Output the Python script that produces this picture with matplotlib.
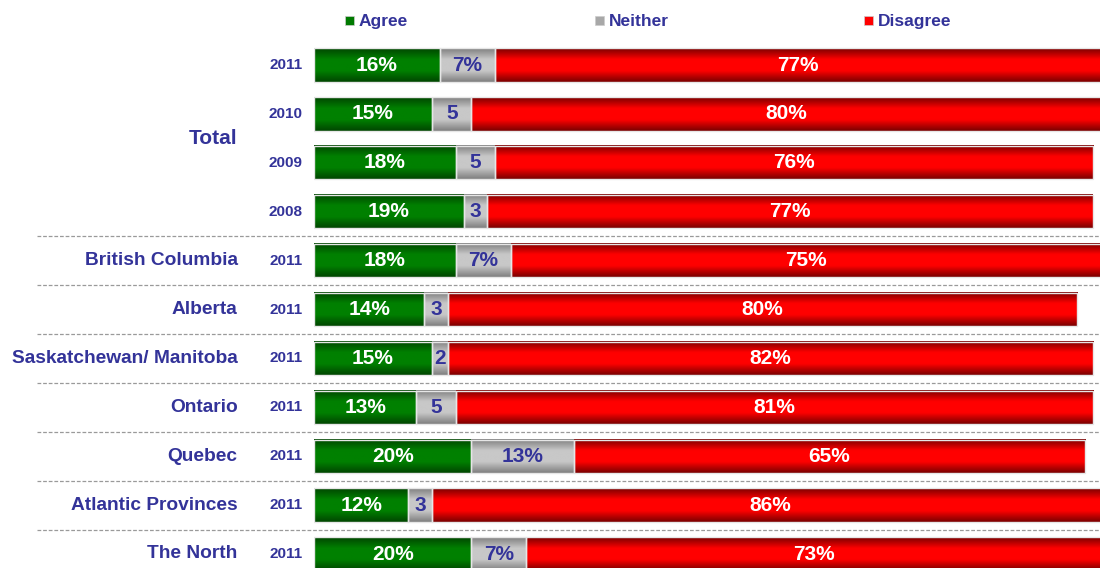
import numpy as np
import matplotlib
matplotlib.use("Agg")
import matplotlib.pyplot as plt
from matplotlib.colors import LinearSegmentedColormap
from matplotlib.patches import Rectangle

plt.rcParams['font.family'] = ['Liberation Sans', 'DejaVu Sans']
plt.rcParams['font.weight'] = 'bold'

#%% data
years = ["2011", "2010", "2009", "2008", "2011", "2011", "2011", "2011", "2011", "2011", "2011"]
groups = ["Total", "British Columbia", "Alberta", "Saskatchewan/ Manitoba", "Ontario",
          "Quebec", "Atlantic Provinces", "The North"]
group_rows = [1.5, 4, 5, 6, 7, 8, 9, 10]
agree = [16, 15, 18, 19, 18, 14, 15, 13, 20, 12, 20]
neither = [7, 5, 5, 3, 7, 3, 2, 5, 13, 3, 7]
disagree = [77, 80, 76, 77, 75, 80, 82, 81, 65, 86, 73]
agree_lbl = ["16%", "15%", "18%", "19%", "18%", "14%", "15%", "13%", "20%", "12%", "20%"]
neither_lbl = ["7%", "5", "5", "3", "7%", "3", "2", "5", "13%", "3", "7%"]
disagree_lbl = ["77%", "80%", "76%", "77%", "75%", "80%", "82%", "81%", "65%", "86%", "73%"]
separators = [3.5, 4.5, 5.5, 6.5, 7.5, 8.5, 9.5]

navy = '#333399'
# edge / centre colours for the glossy look
grad = {
    'Agree': ('#004600', '#008000', '#007a00'),
    'Neither': ('#7f7f7f', '#c8c8c8', '#9c9c9c'),
    'Disagree': ('#7a0000', '#ff0000', '#e00000'),
}

#%% plot
fig = plt.figure(figsize=(11, 5.68), dpi=100)
ax = fig.add_axes([314 / 1100, 0, 787 / 1100, 1])
step = 48.9
ax.axis('off')

y = np.arange(len(years))
left = np.zeros(len(years))
series = [('Agree', agree, agree_lbl, 'white'),
          ('Neither', neither, neither_lbl, navy),
          ('Disagree', disagree, disagree_lbl, 'white')]

for name, vals, lbls, tcol in series:
    edge, centre, solid = grad[name]
    cmap = LinearSegmentedColormap.from_list(name, [edge, centre, centre, edge])
    bars = ax.barh(y, vals, left=left, height=0.68, color=solid, edgecolor='none', zorder=2)
    g = np.linspace(0, 1, 64).reshape(-1, 1)
    for b in bars:
        x0, y0, w, h = b.get_x(), b.get_y(), b.get_width(), b.get_height()
        ax.imshow(g, cmap=cmap, aspect='auto', interpolation='bicubic',
                  extent=(x0, x0 + w, y0 + h, y0), zorder=2.5)
        ax.add_patch(Rectangle((x0, y0), w, h, fill=False, edgecolor='#e6e6e6',
                               linewidth=1.0, zorder=3))
    for yi, l, v, t in zip(y, left, vals, lbls):
        ax.text(l + v / 2, yi, t, ha='center', va='center', color=tcol,
                fontsize=15, fontweight='bold', zorder=4)
    left = left + np.array(vals)

ax.set_xlim(0, 100)
ax.set_ylim(10 + (568 - 554) / step, -65 / step)

# year labels
for yi, yr in zip(y, years):
    ax.text(-1.5, yi, yr, ha='right', va='center', color=navy, fontsize=11,
            fontweight='bold', clip_on=False)

# group labels
for gy, gname in zip(group_rows, groups):
    ax.text(-9.7, gy, gname, ha='right', va='center', color=navy,
            fontsize=15 if gname == 'Total' else 13.8, fontweight='bold', clip_on=False)

# dashed separators
for s in separators:
    ax.plot([-35.2, 100], [s, s], color='#9a9a9a', linestyle=(0, (3, 1.5)),
            linewidth=0.9, clip_on=False, zorder=1)

# legend
leg = [('Agree', 349, '#007a00'), ('Neither', 599, '#a8a8a8'), ('Disagree', 868, '#ff0000')]
for name, px, col in leg:
    fig.add_artist(Rectangle(((px - 4.5) / 1100, 1 - 25 / 568), 9 / 1100, 9 / 568,
                             transform=fig.transFigure, facecolor=col,
                             edgecolor='#cccccc', linewidth=0.5))
    fig.text((px + 10) / 1100, 1 - 26 / 568, name, ha='left', va='baseline',
             color=navy, fontsize=12.5, fontweight='bold')

fig.savefig('out.png', dpi=100)
